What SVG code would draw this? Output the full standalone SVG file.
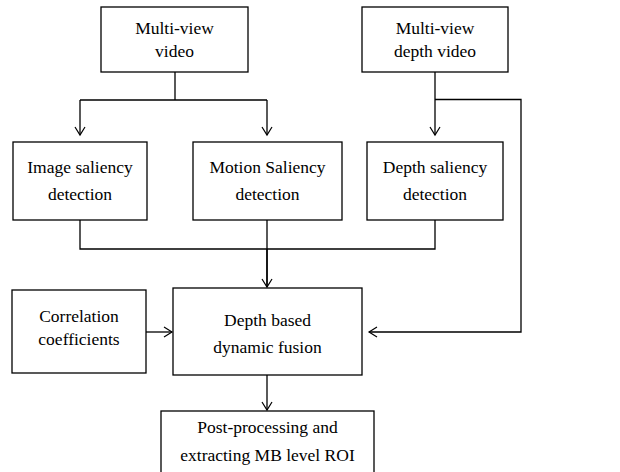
<svg xmlns="http://www.w3.org/2000/svg" width="620" height="472" viewBox="0 0 620 472">
<defs>
<marker id="arr" markerWidth="12" markerHeight="12" refX="10" refY="6" orient="auto" markerUnits="userSpaceOnUse">
<path d="M2,1 L10,6 L2,11" fill="none" stroke="#000" stroke-width="1.2"/>
</marker>
<style>
rect{fill:#fff;stroke:#000;stroke-width:1.3}
text{font-family:"Liberation Serif","Times New Roman",serif;font-size:17.5px;fill:#000;text-anchor:middle}
.c{fill:none;stroke:#000;stroke-width:1.3}
</style>
</defs>
<rect x="0" y="0" width="620" height="472" style="fill:#fff;stroke:none"/>
<g id="connectors">
<path class="c" d="M175,72 V100 M80,100 H267"/>
<path class="c" d="M80,100 V135" marker-end="url(#arr)"/>
<path class="c" d="M267,100 V135" marker-end="url(#arr)"/>
<path class="c" d="M435,72 V135" marker-end="url(#arr)"/>
<path class="c" d="M435,99.5 H521 V332 H369" marker-end="url(#arr)"/>
<path class="c" d="M80,220 V249 H435 V220 M267,220 V249"/>
<path class="c" style="stroke-width:1.8" d="M267,249 V287" marker-end="url(#arr)"/>
<path class="c" d="M146,332 H172" marker-end="url(#arr)"/>
<path class="c" d="M267,375 V410" marker-end="url(#arr)"/>
</g>
<g id="n1"><rect x="101" y="7" width="147" height="65"/><text x="174.5" y="34">Multi-view</text><text x="174.5" y="57">video</text></g>
<g id="n2"><rect x="362" y="7" width="146" height="65"/><text x="435" y="34">Multi-view</text><text x="435" y="57">depth video</text></g>
<g id="n3"><rect x="13" y="142" width="134" height="78"/><text x="80" y="173">Image saliency</text><text x="80" y="200">detection</text></g>
<g id="n4"><rect x="193" y="142" width="149" height="78"/><text x="267.5" y="173">Motion Saliency</text><text x="267.5" y="200">detection</text></g>
<g id="n5"><rect x="367" y="142" width="136" height="78"/><text x="435" y="173">Depth saliency</text><text x="435" y="200">detection</text></g>
<g id="n6"><rect x="12" y="290" width="134" height="83"/><text x="79" y="322">Correlation</text><text x="79" y="345">coefficients</text></g>
<g id="n7"><rect x="173" y="288" width="189" height="87"/><text x="267.5" y="326">Depth based</text><text x="267.5" y="353">dynamic fusion</text></g>
<g id="n8"><rect x="161" y="411" width="213" height="62"/><text x="267.5" y="433">Post-processing and</text><text x="267.5" y="461">extracting MB level ROI</text></g>
</svg>
